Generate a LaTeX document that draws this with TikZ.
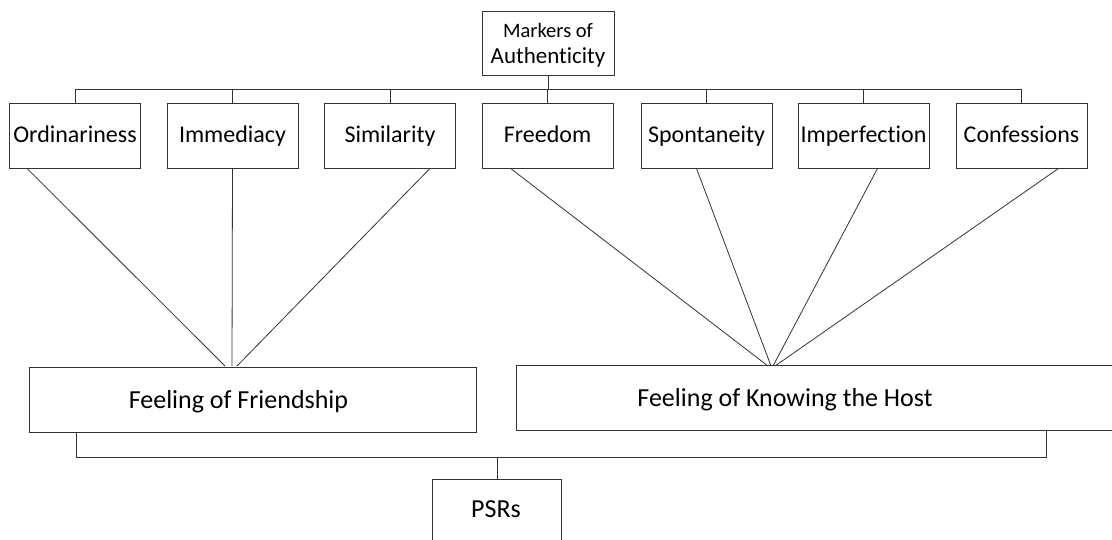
\documentclass[tikz,border=0pt]{standalone}
\usepackage{fontspec}
\setmainfont[Ligatures=NoCommon]{Carlito}
\usetikzlibrary{positioning}
\begin{document}
\begin{tikzpicture}[x=1pt, y=-1pt]
    \tikzset{
      marker/.style={draw=black!80, line width=0.9pt, minimum width=131pt, minimum height=65pt,
        inner sep=0pt, text height=15pt, text depth=2pt, font=\fontsize{24}{26}\selectfont},
      feeling/.style={draw=black!80, line width=0.9pt, minimum height=65pt, inner sep=0pt},
      lbl/.style={inner sep=0pt, text height=17pt, text depth=0pt, font=\fontsize{26}{28}\selectfont},
      link/.style={draw=black!80, line width=0.8pt},
    }
    \useasboundingbox (0,0) rectangle (1112,539);
    \begin{scope}
    \clip (0,0) rectangle (1112,539);
    % ===== Top: markers of authenticity =====
    \node[draw=black!80, line width=0.9pt, minimum width=132pt, minimum height=64pt, inner sep=0pt,
      align=center, font=\fontsize{23}{26}\selectfont] (mark) at (548,43)
      {{\fontsize{20.5}{26}\selectfont\rule{0pt}{19pt}Markers of}\\Authenticity};
    \coordinate (topbus) at (548,89);
    \node[marker] (ord) at (75,135.5) {Ordinariness};
    \node[marker] (imm) at (232.5,135.5) {Immediacy};
    \node[marker] (sim) at (390,135.5) {Similarity};
    \node[marker] (fre) at (547.5,135.5) {Freedom};
    \node[marker] (spo) at (706.5,135.5) {Spontaneity};
    \node[marker] (imp) at (863.5,135.5) {Imperfection};
    \node[marker] (con) at (1021.5,135.5) {Confessions};
    \draw[link] (mark.south) -- (topbus);
    \foreach \m in {ord,imm,sim,fre,spo,imp,con}{
      \draw[link] (\m.north) |- (topbus);
    }
    % ===== Middle: the two feelings =====
    \node[feeling, minimum width=447pt] (friend) at (252.5,399.5) {};
    \node[lbl] (friendtxt) at (238.5,399.5) {Feeling of Friendship};
    \node[feeling, minimum width=600pt] (know) at (816,398) {};
    \node[lbl] (knowtxt) at (785,398) {Feeling of Knowing the Host};
    \coordinate (ffin) at (232,366);
    \coordinate (kfin) at (772,366);
    \draw[link] ([xshift=18pt]ord.south west) -- ([xshift=-7pt]ffin);
    \draw[link] (imm.south) -- (ffin);
    \draw[link] ([xshift=-26pt]sim.south east) -- ([xshift=5pt]ffin);
    \draw[link] ([xshift=29pt]fre.south west) -- ([xshift=-4pt]kfin);
    \draw[link] ([xshift=-10pt]spo.south) -- ([xshift=-1pt]kfin);
    \draw[link] ([xshift=14pt]imp.south) -- ([xshift=1pt]kfin);
    \draw[link] ([xshift=-29pt]con.south east) -- ([xshift=3pt]kfin);
    % ===== Bottom: PSRs =====
    \node[feeling, minimum width=129pt, minimum height=64pt] (psr) at (497,511) {};
    \node[lbl] (psrtxt) at (496,508.5) {PSRs};
    \coordinate (botbus) at (497,457);
    \draw[link] ([xshift=48pt]friend.south west) |- (botbus);
    \draw[link] ([xshift=531pt]know.south west) |- (botbus);
    \draw[link] (botbus) -- (psr.north);
    \end{scope}
\end{tikzpicture}
\end{document}
